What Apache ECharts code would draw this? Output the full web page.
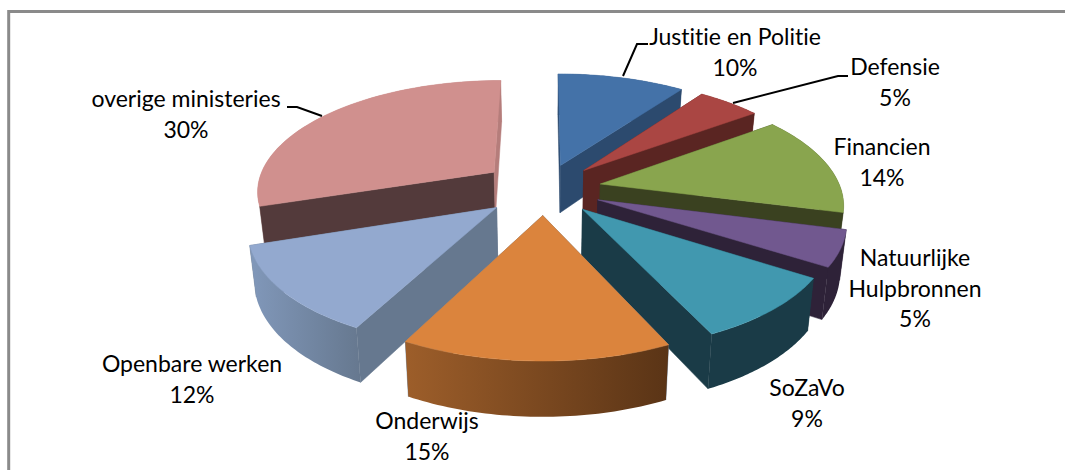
<!DOCTYPE html>
<html><head><meta charset="utf-8">
<style>html,body{margin:0;padding:0;background:#fff}#c{width:1065px;height:470px}text{font-variant-ligatures:none !important}</style>
<script src="https://cdn.jsdelivr.net/npm/echarts@6/dist/echarts.min.js"></script>
</head><body><div id="c"></div>
<script>
const categories = ['Justitie en Politie','Defensie','Financien','Natuurlijke\nHulpbronnen','SoZaVo','Onderwijs','Openbare werken','overige ministeries'];
const shares = [10,5,14,5,9,14.7,12.3,30];
const topColors = ['#4472a8','#aa4643','#89a54e','#71588f','#4198af','#db843d','#93a9cf','#d0908e'];
const sideColors = ['#2c4a6e','#5a2522','#3a4120','#2e2238','#1a3b47','#66788f','#66788f','#533a3b'];
const endWallColors = ['#2c4a6e','#5a2522','#3a4120','#2e2238','#1a3b47','#66788f','#66788f','#b57d7b'];
const outerLeft = ['#2c4a6e','#5a2522','#3a4120','#2e2238','#1a3b47','#9d5e2a','#8198ba','#c98e8b'];
const outerRight = ['#2c4a6e','#5a2522','#3a4120','#2e2238','#1a3b47','#5a3416','#66788f','#b57d7b'];
const explodeScale = [1,1.05,1.05,1.05,1.03,1,1.1,1.15];
const radiusScale = [1,0.99,0.99,0.99,0.985,1,0.98,0.98];
const labelCenters = [[735,36],[895,66],[882,146],[915,257],[807,387],[427,420],[192,363],[186,98]];
const leaders = [[[623,76],[637,44],[648,44]],[[733,103],[838,76],[848,76]],[[322,116],[297,107],[287,107]]];

const P = {cx:544,cy:189,a:243,b:113,D:6.3,h:48.5,hv:6,ex:0.226,k:0.022};
const total = shares.reduce((s,v)=>s+v,0);
function proj(u,v,z){
  const s = P.D/(P.D-v);
  return [P.cx+P.a*u*s*(1-z*P.k), P.cy+P.b*v*s+z*(P.h+P.hv*v)];
}
function slice(i){
  const before = shares.slice(0,i).reduce((s,v)=>s+v,0);
  const a0 = before/total*2*Math.PI, a1=(before+shares[i])/total*2*Math.PI, m=(a0+a1)/2, e=P.ex*explodeScale[i];
  return {a0,a1,m,ou:Math.sin(m)*e,ov:-Math.cos(m)*e,r:radiusScale[i]};
}
const drawOrder = categories.map((_,i)=>i).sort((x,y)=>Math.cos(slice(y).m)-Math.cos(slice(x).m));
function area(p){let A=0;for(let i=0;i<p.length;i++){const q=p[(i+1)%p.length];A+=p[i][0]*q[1]-q[0]*p[i][1];}return A;}
function poly(points,fill){return {type:'polygon',shape:{points},style:{fill,stroke:typeof fill==='string'?fill:null,lineWidth:0.5},silent:true};}

function renderItem(params,api){
  const i = api.value(0), S = slice(i), n = 48;
  const arc = z=>{const r=[];for(let k=0;k<=n;k++){const t=S.a0+(S.a1-S.a0)*k/n;r.push(proj(S.ou+S.r*Math.sin(t),S.ov-S.r*Math.cos(t),z));}return r;};
  const tip = z=>proj(S.ou,S.ov,z);
  const T=arc(0),B=arc(1);
  const walls=[
    {pts:[tip(0),T[0],B[0],tip(1)],fill:sideColors[i]},
    {pts:[T[n],tip(0),tip(1),B[n]],fill:endWallColors[i]},
  ];
  const outer = T.concat(B.slice().reverse());
  const grad = new echarts.graphic.LinearGradient(0,0,1,0,[{offset:0,color:outerLeft[i]},{offset:1,color:outerRight[i]}]);
  const parts=[];
  const all = walls.map(w=>({pts:w.pts,fill:w.fill,front:area(w.pts)<0}));
  all.filter(w=>!w.front).forEach(w=>parts.push(poly(w.pts,w.fill)));
  parts.push(poly(outer,grad));
  all.filter(w=>w.front).forEach(w=>parts.push(poly(w.pts,w.fill)));
  parts.push(poly([tip(0)].concat(T),topColors[i]));
  return {type:'group',children:parts};
}

const texts = categories.map((name,i)=>({
  type:'text',x:labelCenters[i][0],y:labelCenters[i][1]-15,silent:true,z:10,
  style:{text:name+'\n'+Math.round(shares[i]/total*100)+'%',fill:'#000',font:'23px Lato',textAlign:'center',textVerticalAlign:'top',lineHeight:30.5}
}));
const lines = leaders.map(points=>({type:'polyline',shape:{points},silent:true,z:9,style:{stroke:'#000',lineWidth:2,fill:null}}));
const border = {type:'polyline',shape:{points:[[8.7,470],[8.7,11.5],[1065,11.5]]},z:0,silent:true,style:{fill:null,stroke:'#8a8a8a',lineWidth:3}};

const chart = echarts.init(document.getElementById('c'),null,{renderer:'svg'});
chart.setOption({
  animation:false,
  graphic:[border].concat(lines,texts),
  series:[{type:'custom',coordinateSystem:'none',renderItem,z:5,silent:true,data:drawOrder.map(i=>[i,categories[i],shares[i]])}]
});
</script></body></html>
